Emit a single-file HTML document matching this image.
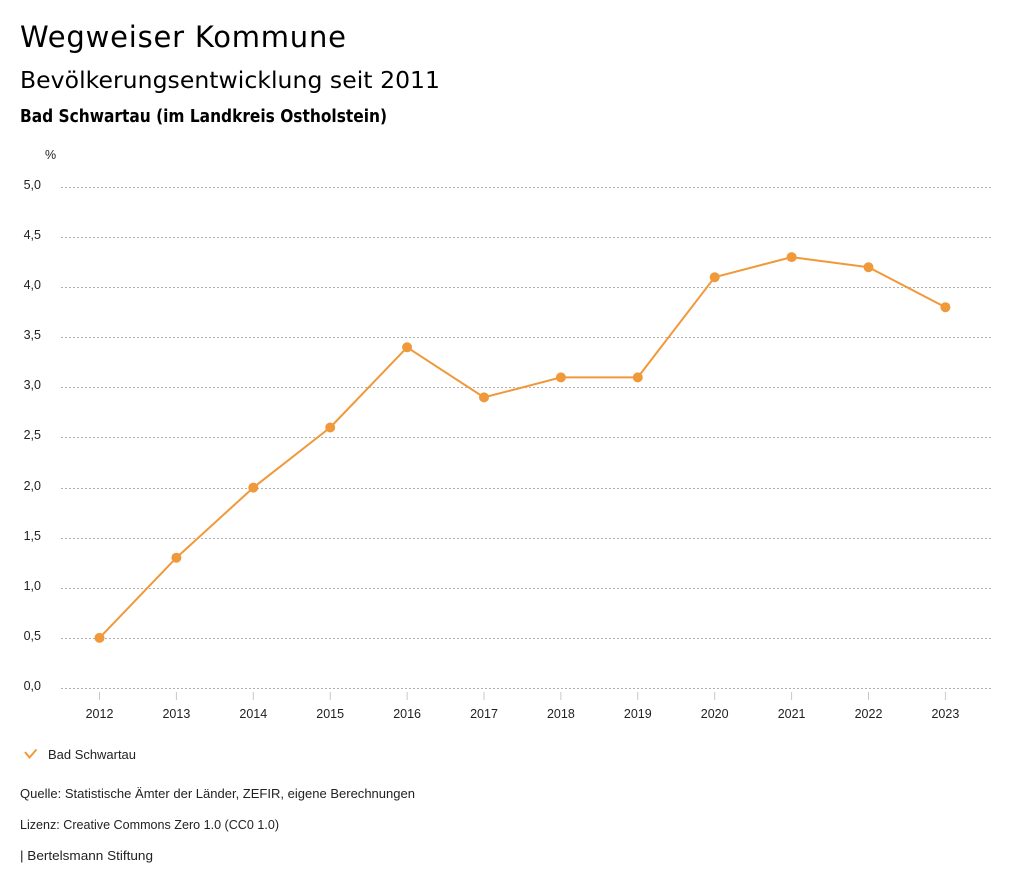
<!DOCTYPE html>
<html><head><meta charset="utf-8"><style>
html,body{margin:0;padding:0;background:#fff;}
svg{display:block;}
.t{font-family:"DejaVu Sans","Liberation Sans",sans-serif;fill:#000;}
.s{font-family:"Liberation Sans",sans-serif;fill:#222;font-size:12.5px;}
</style></head><body>
<svg width="1024" height="888" viewBox="0 0 1024 888" xmlns="http://www.w3.org/2000/svg">
<text class="t" x="20" y="47" font-size="29" textLength="326" lengthAdjust="spacing">Wegweiser Kommune</text>
<text class="t" x="20" y="88" font-size="23.5" textLength="420" lengthAdjust="spacing">Bevölkerungsentwicklung seit 2011</text>
<text class="t" x="20" y="122" font-size="17.5" font-weight="bold" textLength="367" lengthAdjust="spacingAndGlyphs">Bad Schwartau (im Landkreis Ostholstein)</text>
<text class="s" x="45" y="159" font-size="12">%</text>
<g stroke="#b0b0b0" stroke-width="1" stroke-dasharray="2,2">
<line x1="61" x2="991" y1="187.5" y2="187.5"/>
<line x1="61" x2="991" y1="237.5" y2="237.5"/>
<line x1="61" x2="991" y1="287.5" y2="287.5"/>
<line x1="61" x2="991" y1="337.5" y2="337.5"/>
<line x1="61" x2="991" y1="387.5" y2="387.5"/>
<line x1="61" x2="991" y1="437.5" y2="437.5"/>
<line x1="61" x2="991" y1="488.5" y2="488.5"/>
<line x1="61" x2="991" y1="538.5" y2="538.5"/>
<line x1="61" x2="991" y1="588.5" y2="588.5"/>
<line x1="61" x2="991" y1="638.5" y2="638.5"/>
<line x1="61" x2="991" y1="688.5" y2="688.5"/>
</g>
<g class="s" text-anchor="end">
<text x="41" y="189">5,0</text>
<text x="41" y="239">4,5</text>
<text x="41" y="289">4,0</text>
<text x="41" y="339">3,5</text>
<text x="41" y="389">3,0</text>
<text x="41" y="439">2,5</text>
<text x="41" y="490">2,0</text>
<text x="41" y="540">1,5</text>
<text x="41" y="590">1,0</text>
<text x="41" y="640">0,5</text>
<text x="41" y="690">0,0</text>
</g>
<g stroke="#c8c8c8" stroke-width="1">
<line x1="99.5" x2="99.5" y1="692" y2="700"/>
<line x1="176.4" x2="176.4" y1="692" y2="700"/>
<line x1="253.3" x2="253.3" y1="692" y2="700"/>
<line x1="330.2" x2="330.2" y1="692" y2="700"/>
<line x1="407.1" x2="407.1" y1="692" y2="700"/>
<line x1="484" x2="484" y1="692" y2="700"/>
<line x1="560.9" x2="560.9" y1="692" y2="700"/>
<line x1="637.8" x2="637.8" y1="692" y2="700"/>
<line x1="714.7" x2="714.7" y1="692" y2="700"/>
<line x1="791.6" x2="791.6" y1="692" y2="700"/>
<line x1="868.5" x2="868.5" y1="692" y2="700"/>
<line x1="945.4" x2="945.4" y1="692" y2="700"/>
</g>
<g class="s" text-anchor="middle">
<text x="99.5" y="718">2012</text>
<text x="176.4" y="718">2013</text>
<text x="253.3" y="718">2014</text>
<text x="330.2" y="718">2015</text>
<text x="407.1" y="718">2016</text>
<text x="484" y="718">2017</text>
<text x="560.9" y="718">2018</text>
<text x="637.8" y="718">2019</text>
<text x="714.7" y="718">2020</text>
<text x="791.6" y="718">2021</text>
<text x="868.5" y="718">2022</text>
<text x="945.4" y="718">2023</text>
</g>
<polyline fill="none" stroke="#f0993a" stroke-width="2" stroke-linejoin="round" points="99.5,637.9 176.4,557.7 253.3,487.6 330.2,427.5 407.1,347.3 484,397.4 560.9,377.4 637.8,377.4 714.7,277.2 791.6,257.1 868.5,267.2 945.4,307.2"/>
<g fill="#f0993a">
<circle cx="99.5" cy="637.9" r="5"/>
<circle cx="176.4" cy="557.7" r="5"/>
<circle cx="253.3" cy="487.6" r="5"/>
<circle cx="330.2" cy="427.5" r="5"/>
<circle cx="407.1" cy="347.3" r="5"/>
<circle cx="484" cy="397.4" r="5"/>
<circle cx="560.9" cy="377.4" r="5"/>
<circle cx="637.8" cy="377.4" r="5"/>
<circle cx="714.7" cy="277.2" r="5"/>
<circle cx="791.6" cy="257.1" r="5"/>
<circle cx="868.5" cy="267.2" r="5"/>
<circle cx="945.4" cy="307.2" r="5"/>
</g>
<polyline fill="none" stroke="#f0993a" stroke-width="2" points="25,752 29.5,757.5 36.5,749.5"/>
<text class="s" x="48" y="759" font-size="13" textLength="88" lengthAdjust="spacingAndGlyphs">Bad Schwartau</text>
<text class="s" x="20" y="798" font-size="13" textLength="395" lengthAdjust="spacingAndGlyphs">Quelle: Statistische Ämter der Länder, ZEFIR, eigene Berechnungen</text>
<text class="s" x="20" y="829" font-size="13" textLength="259" lengthAdjust="spacingAndGlyphs">Lizenz: Creative Commons Zero 1.0 (CC0 1.0)</text>
<text class="s" x="20" y="860" font-size="13" textLength="133" lengthAdjust="spacingAndGlyphs">| Bertelsmann Stiftung</text>
</svg>
</body></html>
